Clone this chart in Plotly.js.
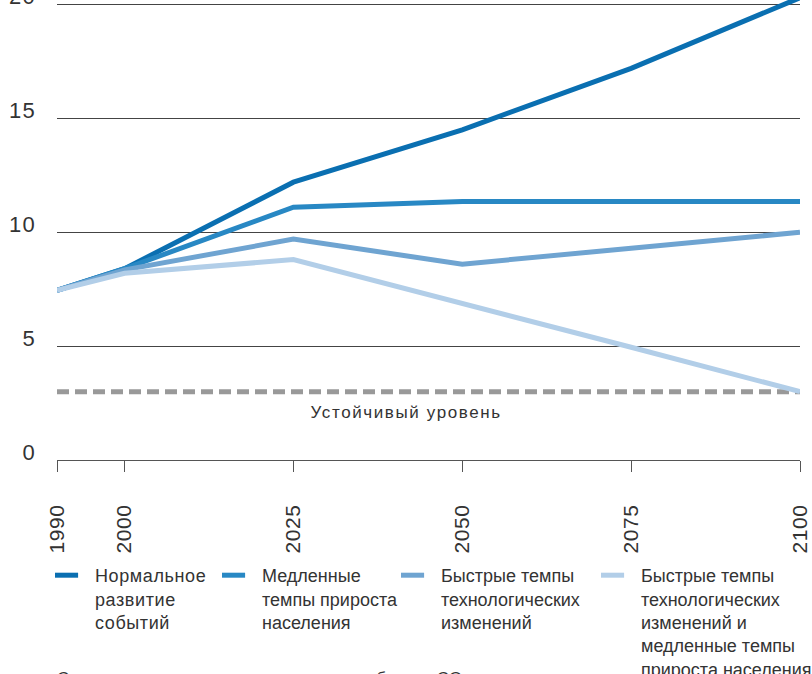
<!DOCTYPE html>
<html>
<head>
<meta charset="utf-8">
<script src="https://cdn.plot.ly/plotly-3.0.1.min.js"></script>
<style>
  html, body { margin: 0; padding: 0; background: #fff; }
  #chart { width: 812px; height: 674px; }
  #chart .legendtext { letter-spacing: 0.6px; }
  #chart .annotation[data-index="0"] .annotation-text { letter-spacing: 1.6px; }
  #chart .ytick text { letter-spacing: 1.3px; }
  #chart .xtick text { letter-spacing: 0.6px; }
  #chart .legend .scrollbox { clip-path: none !important; }
  #chart .legendlines path {
    transform-box: fill-box; transform-origin: left center;
    transform: translateX(-5px) scaleX(0.77);
  }
</style>
</head>
<body>
<div id="chart"></div>
<script>
// ---- data ----
const years = [1990, 2000, 2025, 2050, 2075, 2100];
const normalDev = [7.45, 8.4, 12.2, 14.5, 17.2, 20.3];
const slowPop = [7.45, 8.4, 11.1, 11.35, 11.35, 11.35];
const fastTech = [7.45, 8.35, 9.7, 8.6, 9.3, 10.0];
const fastTechSlowPop = [7.45, 8.2, 8.8, 6.9, 4.95, 3.0];
const sustainYears = [1990, 2100];
const sustainLevel = [3.0, 3.0];
const yTicks = [0, 5, 10, 15, 20];

const seriesNames = [
  'Нормальное<br>развитие<br>событий',
  'Медленные<br>темпы прироста<br>населения',
  'Быстрые темпы<br>технологических<br>изменений',
  'Быстрые темпы<br>технологических<br>изменений и<br>медленные темпы<br>прироста населения'
];
const sustainLabel = 'Устойчивый уровень';
const captionText = 'Сценарии изменения среднегодовых выбросов CO₂';

const colors = ['#0a6fb1', '#2888c4', '#6fa4d1', '#b2cee8'];
const FONT = 'Liberation Sans, Arial, Helvetica, sans-serif';

const seriesData = [normalDev, slowPop, fastTech, fastTechSlowPop];
const legendIds = ['legend', 'legend2', 'legend3', 'legend4'];

const traces = [{
  x: sustainYears, y: sustainLevel, type: 'scatter', mode: 'lines',
  line: {color: '#999999', width: 5, dash: '12px,6px'},
  showlegend: false, hoverinfo: 'skip'
}];
seriesData.forEach((vals, i) => {
  traces.push({
    x: years, y: vals, type: 'scatter', mode: 'lines',
    name: seriesNames[i],
    line: {color: colors[i], width: 5},
    legend: legendIds[i]
  });
});

const plotL = 57, plotR = 800, plotW = plotR - plotL, plotH = 460;
const px2x = p => (p - plotL) / plotW;
const py2y = p => (plotH - p) / plotH;

function legendAt(px) {
  return {
    x: px2x(px), y: py2y(557), xanchor: 'left', yanchor: 'top',
    orientation: 'v', valign: 'top', bgcolor: 'rgba(0,0,0,0)',
    font: {family: FONT, size: 18, color: '#333333'},
    itemwidth: 30, borderwidth: 0
  };
}

const layout = {
  width: 812, height: 674,
  margin: {l: plotL, r: 812 - plotR, t: 0, b: 674 - plotH, pad: 0, autoexpand: false},
  paper_bgcolor: '#ffffff', plot_bgcolor: '#ffffff',
  font: {family: FONT, color: '#333333'},
  showlegend: true,
  xaxis: {
    range: [1990, 2100], tickvals: years, ticktext: years.map(String),
    tickangle: -90, showgrid: false, zeroline: false, automargin: false,
    showline: true, linecolor: '#555555', linewidth: 1,
    ticks: 'outside', ticklen: 11, tickwidth: 1, tickcolor: '#555555',
    tickfont: {family: FONT, size: 21, color: '#333333'},
    ticklabelstandoff: 24
  },
  yaxis: {
    range: [0, 20.2], tickvals: yTicks, ticktext: yTicks.map(String),
    showgrid: true, gridcolor: '#444444', gridwidth: 1, automargin: false,
    zeroline: false, showline: false, ticks: '',
    tickfont: {family: FONT, size: 22, color: '#333333'},
    ticklabelstandoff: 20, ticklabelshift: -8, ticklabeloverflow: 'allow'
  },
  legend: legendAt(55),
  legend2: legendAt(222),
  legend3: legendAt(401),
  legend4: legendAt(601),
  annotations: [
    {text: sustainLabel, xref: 'paper', yref: 'paper', x: px2x(406), y: py2y(412),
     xanchor: 'center', yanchor: 'middle', showarrow: false,
     font: {family: FONT, size: 17, color: '#333333'}},
    {text: captionText, xref: 'paper', yref: 'paper', x: px2x(55), y: py2y(667),
     xanchor: 'left', yanchor: 'top', align: 'left', showarrow: false,
     font: {family: FONT, size: 17, color: '#333333'}}
  ]
};

Plotly.newPlot('chart', traces, layout, {displayModeBar: false, staticPlot: true});
</script>
</body>
</html>
